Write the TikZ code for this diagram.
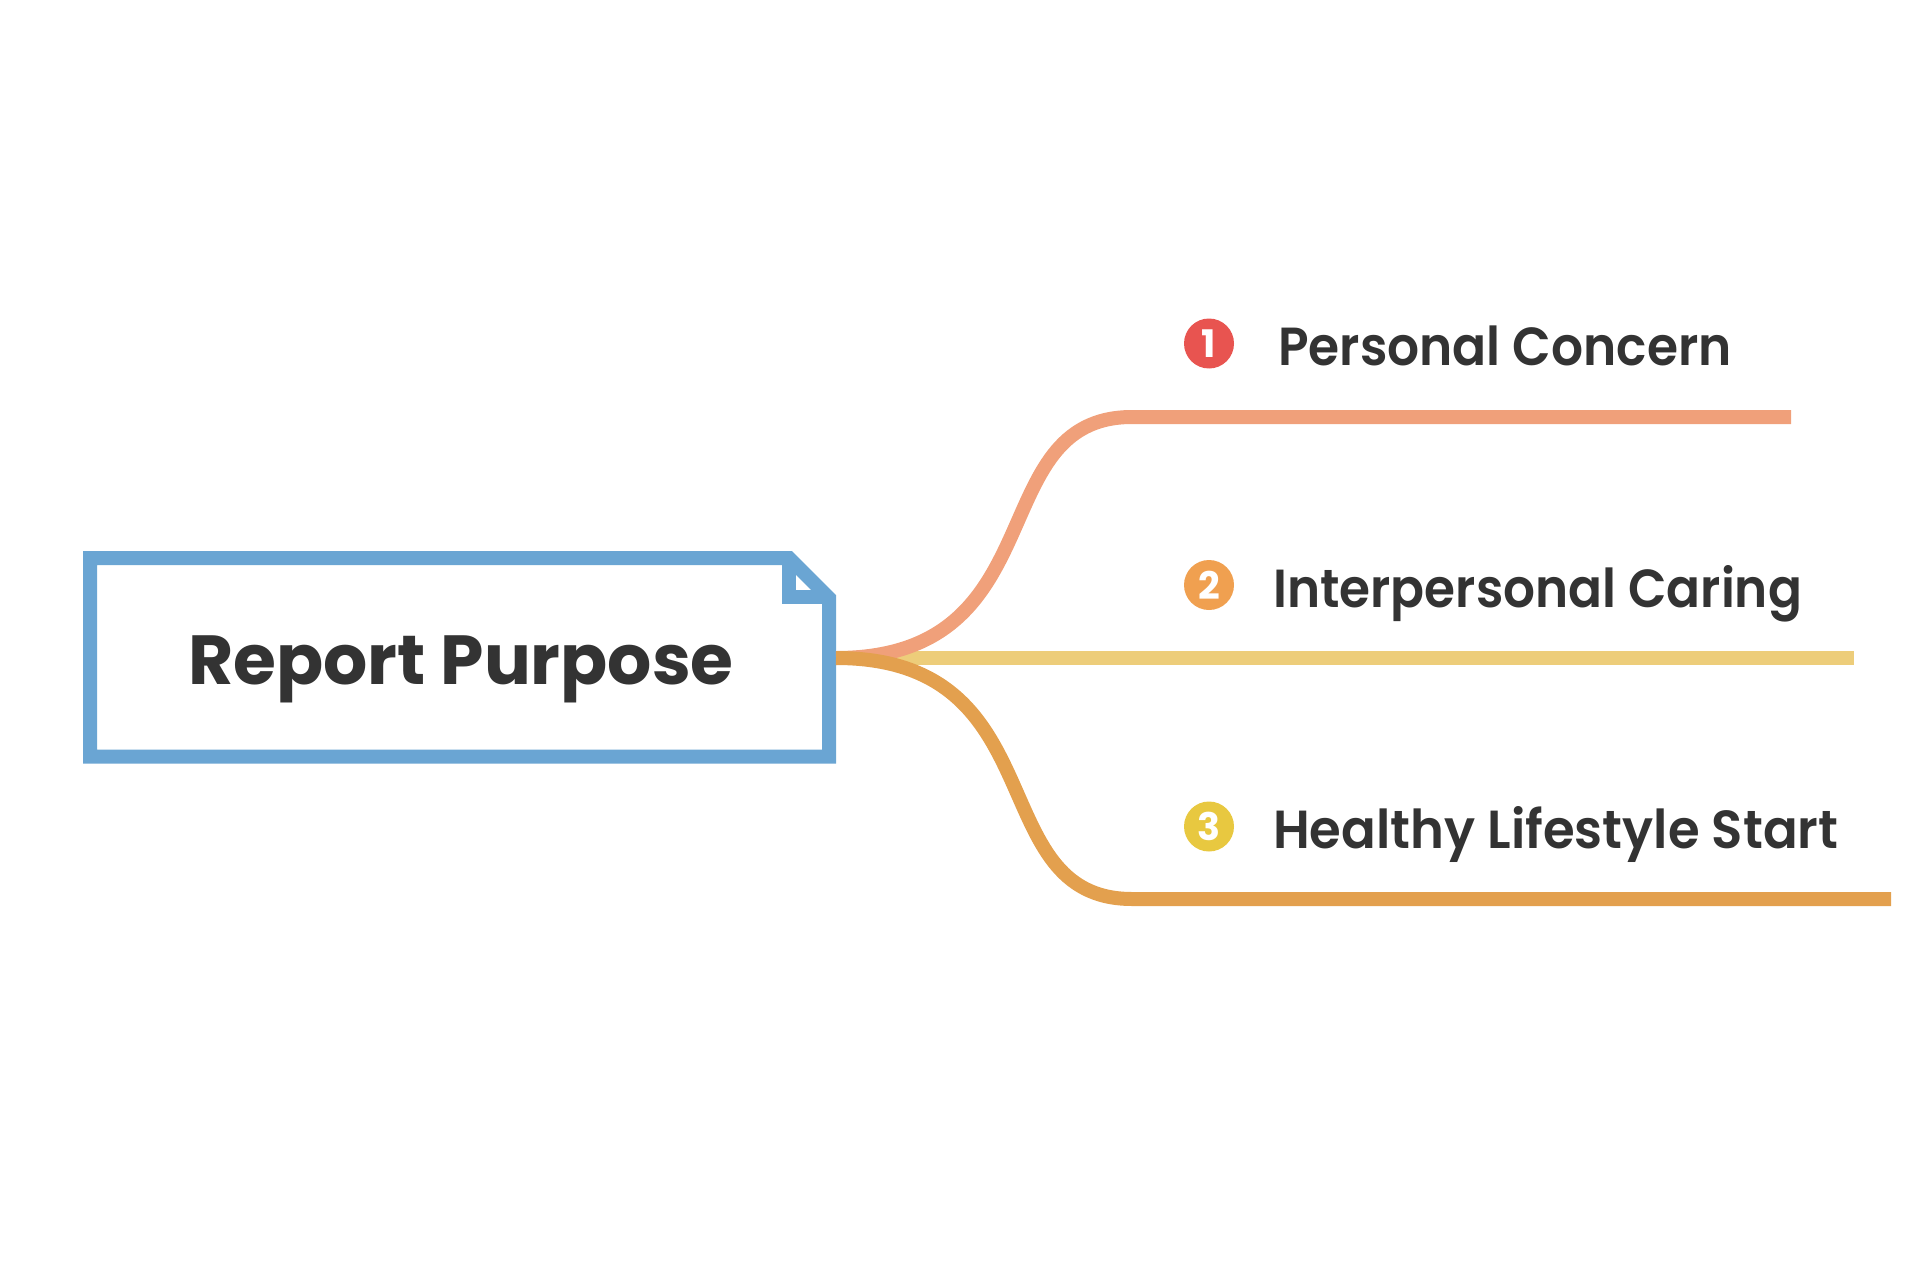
\documentclass[tikz,border=0pt]{standalone}
\usepackage{fontspec}
\setmainfont{Poppins}
\IfFontExistsTF{Poppins SemiBold}{\newfontfamily\labelfont{Poppins SemiBold}}{\newfontfamily\labelfont{Poppins}[FakeBold=1.5]}
\IfFontExistsTF{Poppins Bold}{\newfontfamily\titlefont{Poppins Bold}}{\newfontfamily\titlefont{Poppins}[FakeBold=2.5]}
\definecolor{boxblue}{HTML}{6AA5D3}
\definecolor{brsalmon}{HTML}{F0A07A}
\definecolor{bryellow}{HTML}{EDCD7A}
\definecolor{brorange}{HTML}{E3A04E}
\definecolor{dotred}{HTML}{E85450}
\definecolor{dotorange}{HTML}{F0A050}
\definecolor{dotyellow}{HTML}{E8C840}
\definecolor{txtgray}{HTML}{333333}
\begin{document}
\begin{tikzpicture}[x=1pt,y=-1pt,line join=miter,
  branch/.style={line width=14pt,line cap=butt},
  framebox/.style={draw=boxblue,line width=14pt},
  numdot/.style={circle,minimum size=50pt,inner sep=0pt,text=white,font=\titlefont\fontsize{38}{38}\selectfont},
  lbl/.style={anchor=base west,inner sep=0pt,text=txtgray,font=\labelfont\fontsize{53.6}{60}\selectfont},
  ttl/.style={anchor=base,inner sep=0pt,text=txtgray,font=\titlefont\fontsize{69.5}{75}\selectfont}]
\useasboundingbox (0,0) rectangle (1909,1268);
% central topic
\draw[framebox] (90,558) -- (789,558) -- (829,598) -- (829,756.5) -- (90,756.5) -- cycle;
\draw[framebox] (789,558) -- (789,597) -- (829,597);
\node[ttl] (root) at (461,684) {Report Purpose};
\coordinate (rootE) at (836,658);
% branch coordinates
\coordinate (b1s) at (1132,417);  \coordinate (b1e) at (1791,417);
\coordinate (b2e) at (1854,658);
\coordinate (b3s) at (1132,899);  \coordinate (b3e) at (1891,899);
% branches
\draw[branch,bryellow] (rootE) -- (b2e);
\draw[branch,brsalmon] (rootE) .. controls (1058,658) and (981,417) .. (b1s) -- (b1e);
\draw[branch,brorange] (rootE) .. controls (1058,658) and (981,899) .. (b3s) -- (b3e);
% labels
\node[numdot,fill=dotred] (n1) at (1209,343.5) {1};
\node[numdot,fill=dotorange] (n2) at (1209,585) {2};
\node[numdot,fill=dotyellow] (n3) at (1209,826.5) {3};
\node[lbl] (l1) at (1278,365) {\scalebox{0.938}[1]{Personal Concern}};
\node[lbl] (l2) at (1273,607) {\scalebox{0.935}[1]{Interpersonal Caring}};
\node[lbl] (l3) at (1273,848) {\scalebox{0.957}[1]{Healthy Lifestyle Start}};
\end{tikzpicture}
\end{document}
